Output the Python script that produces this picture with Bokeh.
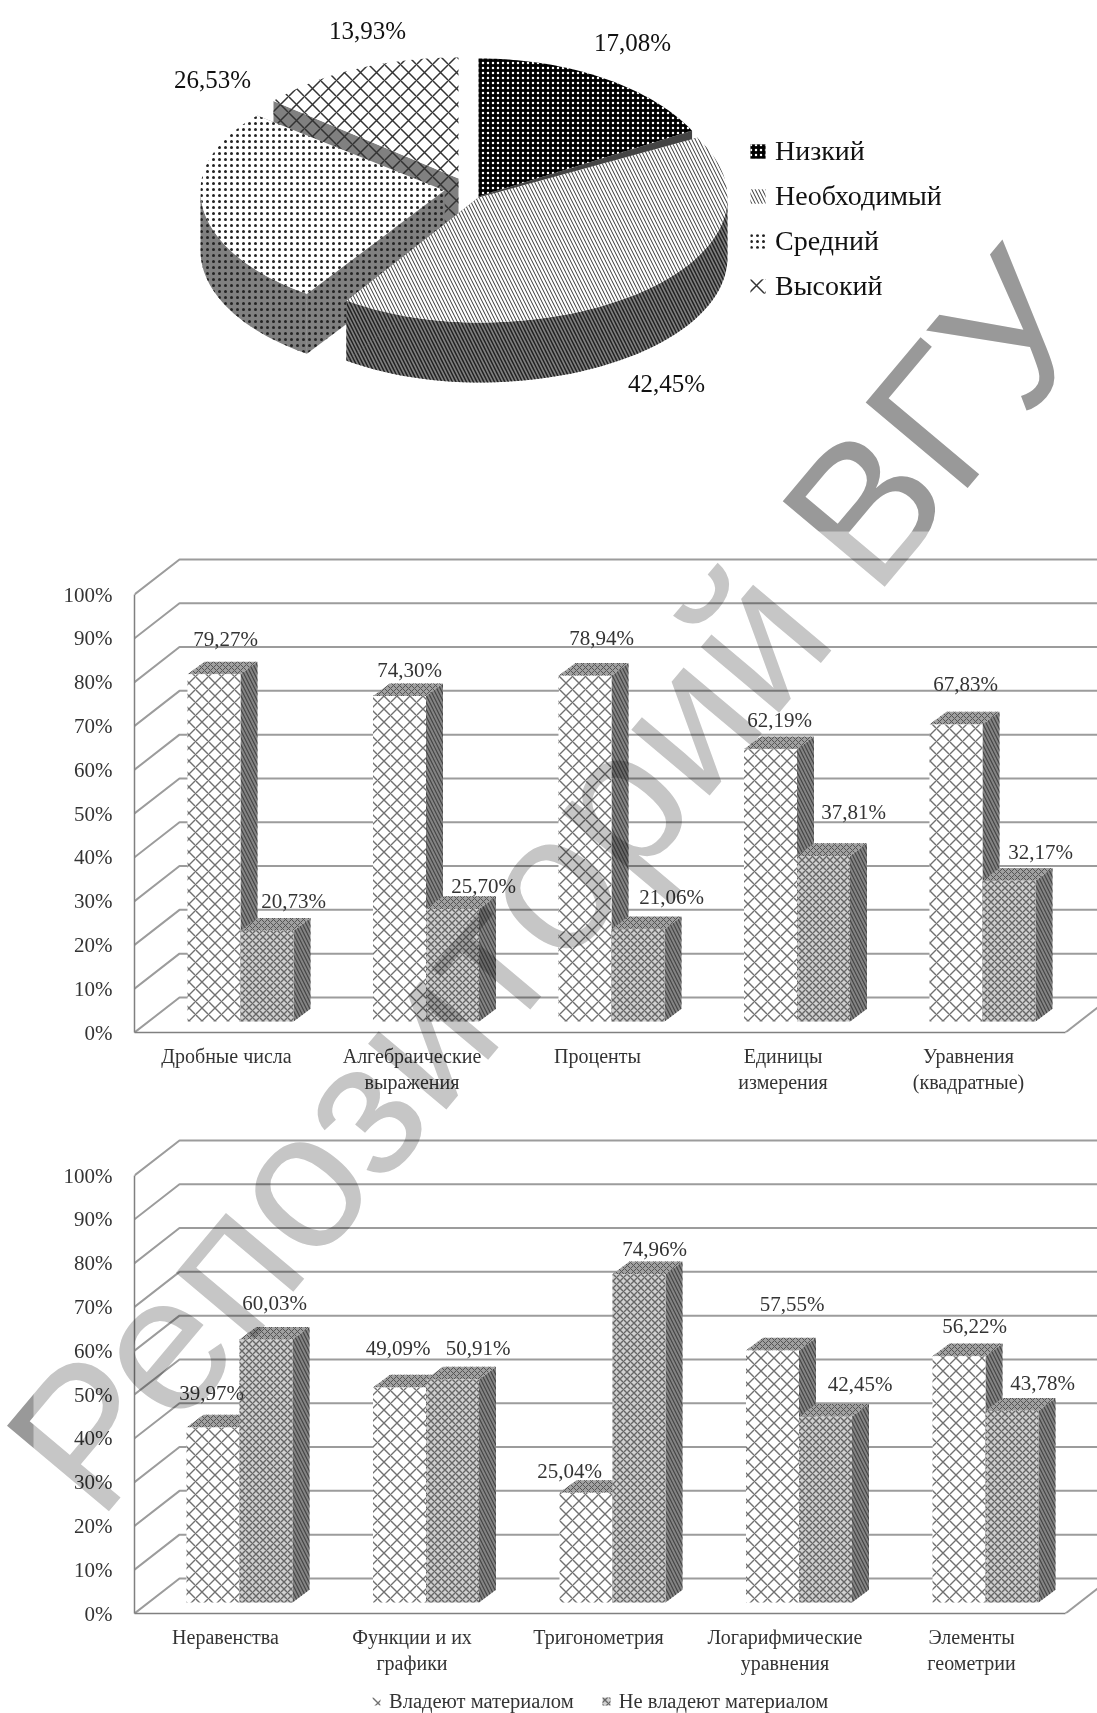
from math import sin, cos, pi
from bokeh.plotting import figure
from bokeh.layouts import column
from bokeh.models import Range1d, FixedTicker, Legend, LegendItem, ColumnDataSource, Label, BoxAnnotation
from bokeh.core.properties import value
from bokeh.embed import file_html
from bokeh.resources import INLINE

# ---------- data ----------
pie_names = ["Низкий", "Необходимый", "Средний", "Высокий"]
pie_values = [17.08, 42.45, 26.53, 13.93]
pie_labels = ["17,08%", "42,45%", "26,53%", "13,93%"]

cats_1 = ["Дробные числа", "Алгебраические\nвыражения", "Проценты", "Единицы\nизмерения", "Уравнения\n(квадратные)"]
own_1 = [79.27, 74.30, 78.94, 62.19, 67.83]
not_1 = [20.73, 25.70, 21.06, 37.81, 32.17]

cats_2 = ["Неравенства", "Функции и их\nграфики", "Тригонометрия", "Логарифмические\nуравнения", "Элементы\nгеометрии"]
own_2 = [39.97, 49.09, 25.04, 57.55, 56.22]
not_2 = [60.03, 50.91, 74.96, 42.45, 43.78]

series_names = ["Владеют материалом", "Не владеют материалом"]
y_ticks = [0, 10, 20, 30, 40, 50, 60, 70, 80, 90, 100]

# ---------- style ----------
SERIF = "Liberation Serif"
TXT = "#333333"
GRID = "#9c9c9c"
PX_Y = 4.38
DEPTH_Y = 8.0
BAR_DY = 2.9
BASE = 2.5
LEFT = 134
W = 1097
OWN_STYLE = dict(fill_color="#ffffff", hatch_pattern="diagonal_cross", hatch_color="#707070", hatch_scale=13, hatch_weight=1.4)
NOT_STYLE = dict(fill_color="#d0d0d0", hatch_pattern="diagonal_cross", hatch_color="#666666", hatch_scale=7, hatch_weight=1.4)


def fmt(v):
    return f"{v:.2f}".replace(".", ",") + "%"


def bar_chart(cats, own, nots, top_page, height, floor_page, tick0, step, own_off, not_off):
    min_bottom = top_page + height - floor_page
    xl = (LEFT - tick0) / step
    xr = (W - tick0) / step
    dep_x = 45 / step
    bar_w = 53 / step
    bar_dx = 17 / step
    shift = 14 / step
    p = figure(width=W, height=height, output_backend="svg", toolbar_location=None,
               x_range=Range1d(xl, xr), y_range=Range1d(0, (floor_page - top_page) / PX_Y),
               min_border_left=LEFT, min_border_right=0, min_border_top=0, min_border_bottom=min_bottom)
    p.outline_line_color = None
    p.xgrid.visible = False
    p.ygrid.visible = False
    ax = p.yaxis[0]
    ax.ticker = FixedTicker(ticks=y_ticks)
    ax.major_label_overrides = {t: f"{t}%" for t in y_ticks}
    ax.bounds = (0, 100)
    ax.major_tick_line_color = None
    ax.minor_tick_line_color = None
    ax.axis_line_color = "#808080"
    ax.axis_line_width = 1.5
    ax.major_label_standoff = 16
    ax.major_label_text_font = SERIF
    ax.major_label_text_font_size = "21px"
    ax.major_label_text_color = TXT
    bx = p.xaxis[0]
    bx.ticker = FixedTicker(ticks=list(range(len(cats))))
    bx.major_label_overrides = {i: c for i, c in enumerate(cats)}
    floor_end = (1065 - tick0) / step
    bx.bounds = (xl, floor_end)
    bx.major_tick_line_color = None
    bx.minor_tick_line_color = None
    bx.axis_line_color = "#808080"
    bx.axis_line_width = 1.5
    bx.major_label_standoff = 6
    bx.major_label_text_font = SERIF
    bx.major_label_text_font_size = "20px"
    bx.major_label_text_color = TXT

    # walls
    xs, ys = [], []
    for t in y_ticks:
        xs.append([xl, xl + dep_x, xr + 1])
        ys.append([t, t + DEPTH_Y, t + DEPTH_Y])
    xs.append([floor_end, floor_end + dep_x])
    ys.append([0, DEPTH_Y])
    p.multi_line(xs, ys, line_color=GRID, line_width=2)

    groups = list(range(len(cats)))
    left_x = [g + shift - bar_w / 2 for g in groups]
    right_x = [g + shift + bar_w / 2 for g in groups]

    def draw(xc, vals, style):
        tx, ty, sx, sy = [], [], [], []
        for x, v in zip(xc, vals):
            l, r, t = x - bar_w / 2, x + bar_w / 2, BASE + v
            tx.append([l, l + bar_dx, r + bar_dx, r])
            ty.append([t, t + BAR_DY, t + BAR_DY, t])
            sx.append([r, r + bar_dx, r + bar_dx, r])
            sy.append([BASE, BASE + BAR_DY, t + BAR_DY, t])
        p.patches(sx, sy, fill_color="#848484", line_color=None,
                  hatch_pattern="left_diagonal_line", hatch_color="#444444", hatch_scale=7, hatch_weight=1.2)
        p.patches(tx, ty, fill_color="#a0a0a0", line_color=None,
                  hatch_pattern="diagonal_cross", hatch_color="#555555", hatch_scale=6, hatch_weight=1)
        src = ColumnDataSource(dict(x=xc, top=[BASE + v for v in vals], bottom=[BASE] * len(vals)))
        p.vbar(x="x", top="top", bottom="bottom", width=bar_w, source=src, line_color=None, **style)

    draw(left_x, own, OWN_STYLE)
    draw(right_x, nots, NOT_STYLE)

    lefts = [x - bar_w / 2 for x in left_x]
    rights = [x - bar_w / 2 for x in right_x]
    for starts, vals, off in ((lefts, own, own_off), (rights, nots, not_off)):
        p.text(starts, [BASE + v for v in vals], text=[fmt(v) for v in vals],
               x_offset=[o[0] for o in off], y_offset=[o[1] for o in off],
               text_align="center", text_baseline="middle", text_font=value(SERIF),
               text_font_size="21px", text_color=TXT)
    return p


# ---------- pie ----------
PIE_H = 520
pie = figure(width=W, height=PIE_H, output_backend="svg", toolbar_location=None,
             x_range=Range1d(LEFT, W), y_range=Range1d(PIE_H, 0),
             min_border_left=LEFT, min_border_right=0, min_border_top=0, min_border_bottom=0,
             x_axis_location=None, y_axis_location=None)
pie.outline_line_color = None
pie.xgrid.visible = False
pie.ygrid.visible = False

slice_geo = [  # apex x, apex y, a-right, a-left, b-top, b-bottom
    (478, 196, 243, 243, 138, 125),
    (478, 197, 249, 234, 125, 125),
    (444, 190, 244, 244, 117, 125),
    (458, 178, 241, 241, 121, 117),
]
DEPTH = 60
fills = [
    dict(fill_color="#000000", hatch_pattern="dot", hatch_color="#ffffff", hatch_scale=5, hatch_weight=1),
    dict(fill_color="#ffffff", hatch_pattern="left_diagonal_line", hatch_color="#333333", hatch_scale=7, hatch_weight=1),
    dict(fill_color="#ffffff", hatch_pattern="dot", hatch_color="#222222", hatch_scale=6, hatch_weight=1),
    dict(fill_color="#ffffff", hatch_pattern="diagonal_cross", hatch_color="#333333", hatch_scale=16, hatch_weight=1.5),
]
side = [
    dict(fill_color="#444444"),
    dict(fill_color="#808080", hatch_pattern="left_diagonal_line", hatch_color="#222222", hatch_scale=7, hatch_weight=1.5),
    dict(fill_color="#808080", hatch_pattern="dot", hatch_color="#222222", hatch_scale=6, hatch_weight=1),
    dict(fill_color="#808080", hatch_pattern="diagonal_cross", hatch_color="#333333", hatch_scale=16, hatch_weight=1.5),
]


def pt(geo, th):
    ax_, ay_, ar_, al_, bt, bb = geo
    c = cos(th)
    s = sin(th)
    return ax_ + (ar_ if s > 0 else al_) * s, ay_ - (bt if c > 0 else bb) * c


angles = []
cum = 0.0
for v in pie_values:
    angles.append((cum / sum(pie_values) * 2 * pi, (cum + v) / sum(pie_values) * 2 * pi))
    cum += v

renders = {}
for idx in (3, 0, 2, 1):
    geo = slice_geo[idx]
    a0, a1 = angles[idx]
    n = 60
    arc = [pt(geo, a0 + (a1 - a0) * k / n) for k in range(n + 1)]
    sx, sy = [], []
    vis = [q for q in [a0 + (a1 - a0) * k / n for k in range(n + 1)] if cos(q) <= 0.02]
    if vis:
        ar = [pt(geo, q) for q in vis]
        sx.append([q[0] for q in ar] + [q[0] for q in reversed(ar)])
        sy.append([q[1] for q in ar] + [q[1] + DEPTH for q in reversed(ar)])
    for e in (arc[0], arc[-1]):
        sx.append([geo[0], e[0], e[0], geo[0]])
        sy.append([geo[1], e[1], e[1] + DEPTH, geo[1] + DEPTH])
    pie.patches(sx, sy, line_color=None, **side[idx])
    renders[idx] = pie.patch([geo[0]] + [q[0] for q in arc], [geo[1]] + [q[1] for q in arc],
                             line_color=None, **fills[idx])

label_pos = [(632, 42), (666, 383), (212, 79), (367, 30)]
pie.text([q[0] for q in label_pos], [q[1] for q in label_pos], text=pie_labels,
         text_align="center", text_baseline="middle", text_font=value(SERIF),
         text_font_size="25px", text_color="#111111")
lg = Legend(items=[LegendItem(label=n_, renderers=[renders[i]]) for i, n_ in enumerate(pie_names)],
            location=(748 - LEFT, PIE_H - 302), border_line_color=None, background_fill_color=None,
            label_text_font=SERIF, label_text_font_size="28px", label_text_color="#111111",
            glyph_width=19, glyph_height=18, label_height=30, spacing=13, padding=0, margin=0, label_standoff=8)
pie.add_layout(lg, "center")

# ---------- bars ----------
off1a = [(38, -35), (36.5, -26), (43, -38), (35.5, -29), (36, -40)]
off1b = [(53, -30), (57.5, -23), (60, -32), (56.5, -44), (58, -29)]
off2a = [(25, -34), (25, -40), (10, -22), (46, -46), (42, -30)]
off2b = [(35, -37), (52, -32), (42, -25), (61, -33), (57, -28)]
c1 = bar_chart(cats_1, own_1, not_1, 520, 610, 1032, 226, 185.5, off1a, off1b)
c2 = bar_chart(cats_2, own_2, not_2, 1130, 558, 1613, 225, 186.5, off2a, off2b)

# ---------- legend strip under the second chart ----------
strip = figure(width=W, height=25, output_backend="svg", toolbar_location=None,
               x_range=Range1d(0, 1), y_range=Range1d(0, 1),
               min_border_left=LEFT, min_border_right=0, min_border_top=0, min_border_bottom=0,
               x_axis_location=None, y_axis_location=None)
strip.outline_line_color = None
strip.xgrid.visible = False
strip.ygrid.visible = False
k1 = strip.vbar(x=[0.5], top=[0], bottom=[0], width=0, line_color=None, **OWN_STYLE)
k2 = strip.vbar(x=[0.5], top=[0], bottom=[0], width=0, line_color=None, **NOT_STYLE)
strip.add_layout(Legend(items=[LegendItem(label=series_names[0], renderers=[k1]),
                               LegendItem(label=series_names[1], renderers=[k2])],
                        orientation="horizontal", location=(371 - LEFT, 0), border_line_color=None,
                        background_fill_color=None, glyph_width=10, glyph_height=10, spacing=27,
                        label_text_font=SERIF, label_text_font_size="20.5px", label_text_color=TXT,
                        margin=0, padding=0, label_standoff=8, label_height=24), "center")

# ---------- watermark overlay ----------
wm = figure(width=W, height=1713, output_backend="svg", toolbar_location=None,
            x_range=Range1d(0, W), y_range=Range1d(1713, 0), min_border=0,
            x_axis_location=None, y_axis_location=None, background_fill_color=None,
            border_fill_color=None, margin=(-1713, 0, 0, 0),
            styles={"mix-blend-mode": "multiply"})
wm.outline_line_color = None
wm.xgrid.visible = False
wm.ygrid.visible = False
wm.add_layout(Label(x=47, y=1480, text="Репозиторий ВГУ", angle=50, angle_units="deg",
                    text_font="Liberation Sans", text_font_size="193.5px", text_color="#999999",
                    text_align="left", text_baseline="alphabetic"))
wm.add_layout(BoxAnnotation(left=33, right=W, top=531, bottom=1713, fill_color="#ffffff",
                            fill_alpha=0.44, line_color=None, level="overlay"))

root = column(column(pie, c1, c2, strip, spacing=0), wm, spacing=0)
open("out.html", "w").write(file_html(root, INLINE))
